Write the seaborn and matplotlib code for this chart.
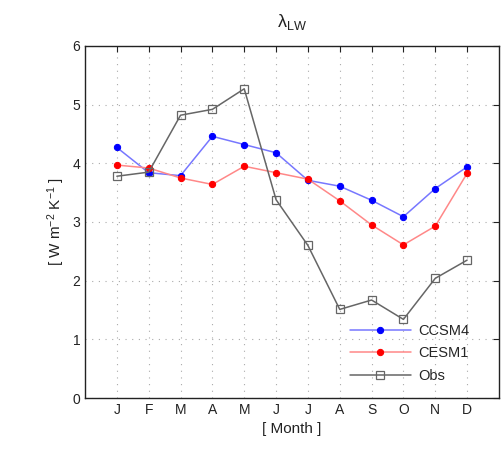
import numpy as np
import pandas as pd
import matplotlib
matplotlib.use("Agg")
import matplotlib.pyplot as plt
import seaborn as sns

months = ["J", "F", "M", "A", "M", "J", "J", "A", "S", "O", "N", "D"]
ccsm4 = [4.27, 3.84, 3.79, 4.46, 4.32, 4.18, 3.71, 3.61, 3.37, 3.09, 3.57, 3.94]
cesm1 = [3.97, 3.92, 3.75, 3.64, 3.95, 3.84, 3.73, 3.36, 2.95, 2.61, 2.93, 3.83]
obs = [3.78, 3.85, 4.82, 4.92, 5.27, 3.38, 2.60, 1.51, 1.67, 1.34, 2.04, 2.35]

sns.set_style("white")
plt.rcParams['font.family'] = ['Liberation Sans', 'DejaVu Sans']
plt.rcParams['mathtext.fontset'] = 'custom'
plt.rcParams['mathtext.rm'] = 'Liberation Sans'
plt.rcParams['mathtext.it'] = 'Liberation Sans'

x = np.arange(1, 13)
fig = plt.figure(figsize=(5.04, 4.53), dpi=100)
ax = fig.add_axes([0.1687, 0.1214, 0.8213, 0.7771])

sns.lineplot(x=x, y=ccsm4, ax=ax, color='#7777ff', lw=1.1, marker='o', markersize=4.5,
             markerfacecolor='#0000ff', markeredgecolor='#0000ff', label='CCSM4')
sns.lineplot(x=x, y=cesm1, ax=ax, color='#ff8888', lw=1.1, marker='o', markersize=4.5,
             markerfacecolor='#ff0000', markeredgecolor='#ff0000', label='CESM1')
sns.lineplot(x=x, y=obs, ax=ax, color='#666666', lw=1.1, marker='s', markersize=5.5,
             markerfacecolor='none', markeredgecolor='#666666', markeredgewidth=0.9, label='Obs')

ax.set_xlim(0, 13)
ax.set_ylim(0, 6)
ax.set_xticks(x)
ax.set_xticklabels(months)
ax.set_yticks(range(0, 7))
ax.grid(True, linestyle=(0, (1, 5)), color='#aaaaaa', lw=0.8)
ax.tick_params(direction='in', top=True, right=True, length=4, width=0.8, labelsize=10, colors='#222222')
for s in ax.spines.values():
    s.set_color('#222222')
    s.set_linewidth(1.0)
ax.set_xlabel('[ Month ]', fontsize=11, color='#222222')
ax.set_ylabel('[ W m$^{-2}$ K$^{-1}$ ]', fontsize=11, color='#222222', labelpad=4)
ax.set_title(r'$\lambda_{\rm LW}$', fontsize=13, color='#222222', pad=14)

leg = ax.legend(loc='lower right', frameon=False, fontsize=10.5, handlelength=4.2,
                bbox_to_anchor=(0.96, 0.005), labelspacing=0.6, handletextpad=0.5)

fig.savefig('out.png', dpi=100)
